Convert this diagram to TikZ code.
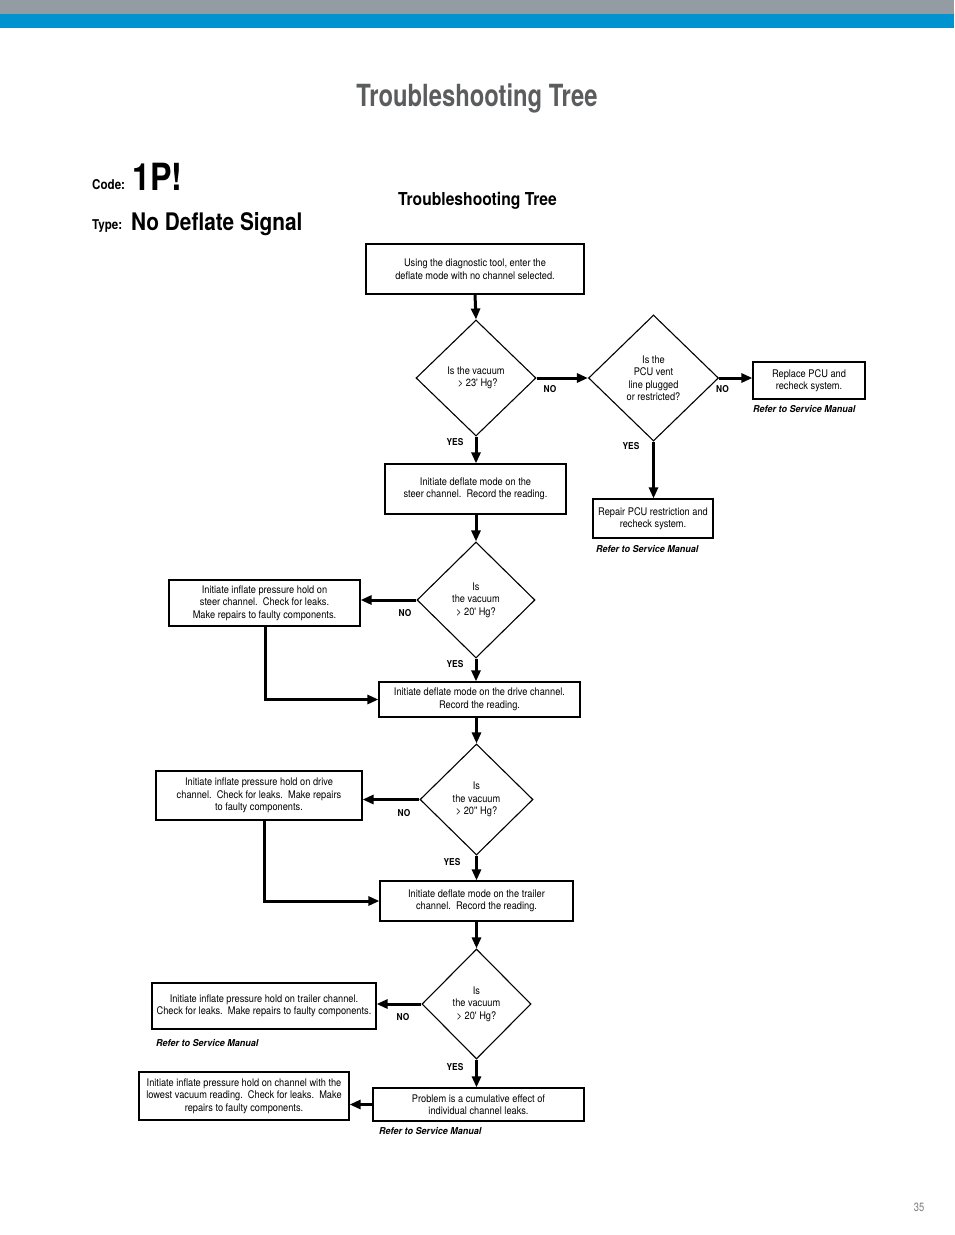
\documentclass[tikz,border=0pt]{standalone}
\usepackage{fontspec}
\usetikzlibrary{arrows.meta,shapes.geometric}
\setmainfont{TeX Gyre Heros}
\newfontfamily\cond[FakeStretch=0.88]{TeX Gyre Heros}
\newfontfamily\condref[FakeStretch=0.95]{TeX Gyre Heros}
\newfontfamily\condtitle[FakeStretch=0.78]{TeX Gyre Heros}
\newfontfamily\condcode[FakeStretch=0.86]{TeX Gyre Heros}
\definecolor{bandgray}{HTML}{939BA3}
\definecolor{bandblue}{HTML}{0093D0}
\definecolor{titlegray}{HTML}{5B5C5E}
\tikzset{
  box/.style={draw, line width=1.2pt, inner sep=0pt, align=center, font=\cond\fontsize{10.5}{12.5}\selectfont},
  dia/.style={draw, diamond, line width=1.1pt, inner sep=0pt, align=center, font=\cond\fontsize{10.5}{12.5}\selectfont},
  flow/.style={line width=3pt, -{Triangle[length=11pt,width=9pt]}},
  lbl/.style={font=\cond\bfseries\fontsize{9.5}{10}\selectfont, inner sep=0pt},
  ref/.style={font=\condref\bfseries\itshape\fontsize{9.5}{10}\selectfont, inner sep=0pt, anchor=west},
}
\begin{document}
\begin{tikzpicture}[x=1pt,y=-1pt]
\useasboundingbox (0,0) rectangle (954,1235);
\fill[white] (0,0) rectangle (954,1235);
\fill[bandgray] (0,0) rectangle (954,14);
\fill[bandblue] (0,14) rectangle (954,27.5);
% page titles
\node[text=titlegray, font=\condtitle\bfseries\fontsize{30.5}{32}\selectfont, anchor=base] (title) at (477,106) {Troubleshooting Tree};
\node[font=\condcode\bfseries\fontsize{13.5}{14}\selectfont, anchor=base west, inner sep=0pt] (codel) at (92,189) {Code:};
\node[font=\condcode\bfseries\fontsize{37.5}{40}\selectfont, anchor=base west, inner sep=0pt] (code) at (132,190) {1P!};
\node[font=\condcode\bfseries\fontsize{13.5}{14}\selectfont, anchor=base west, inner sep=0pt] (typel) at (92,229) {Type:};
\node[font=\condcode\bfseries\fontsize{24.2}{26}\selectfont, anchor=base west, inner sep=0pt] (type) at (131,230) {No Deflate Signal};
\node[font=\cond\bfseries\fontsize{17.8}{21}\selectfont, anchor=base, inner sep=0pt] (ititle) at (477.5,205) {Troubleshooting Tree};
\node[text=gray, font=\condtitle\fontsize{12}{14}\selectfont, inner sep=0pt] (page) at (919,1207) {35};

% boxes
\node[box, minimum width=218pt, minimum height=50pt] (b1) at (475,269) {Using the diagnostic tool, enter the\\deflate mode with no channel selected.};
\node[dia, minimum width=120pt, minimum height=116pt] (d1) at (476,378) {Is the vacuum\\\,\,\textgreater{} 23' Hg?};
\node[dia, minimum width=130pt, minimum height=126pt] (d2) at (653.5,378) {Is the\\PCU vent\\line plugged\\or restricted?};
\node[box, minimum width=112pt, minimum height=37pt] (b2) at (809,380.5) {Replace PCU and\\recheck system.};
\node[box, minimum width=120pt, minimum height=39pt] (b3) at (653,518.5) {Repair PCU restriction and\\recheck system.};
\node[box, minimum width=181pt, minimum height=50pt] (b4) at (475.5,489) {Initiate deflate mode on the\\steer channel.\ \ Record the reading.};
\node[dia, minimum width=118pt, minimum height=116pt] (d3) at (476,600) {Is\\the vacuum\\\textgreater{} 20' Hg?};
\node[box, minimum width=191pt, minimum height=46pt] (l1) at (264.5,603) {Initiate inflate pressure hold on\\steer channel.\ \ Check for leaks.\\Make repairs to faulty components.};
\node[box, minimum width=201pt, minimum height=35pt] (b5) at (479.5,699.5) {Initiate deflate mode on the drive channel.\\Record the reading.};
\node[dia, minimum width=113pt, minimum height=111pt] (d4) at (476.5,799.5) {Is\\the vacuum\\\textgreater{} 20'' Hg?};
\node[box, minimum width=206pt, minimum height=49pt] (l2) at (259,795.5) {Initiate inflate pressure hold on drive\\channel.\ \ Check for leaks.\ \ Make repairs\\to faulty components.};
\node[box, minimum width=193pt, minimum height=40pt] (b6) at (476.5,901) {Initiate deflate mode on the trailer\\channel.\ \ Record the reading.};
\node[dia, minimum width=109pt, minimum height=110pt] (d5) at (476.5,1004) {Is\\the vacuum\\\textgreater{} 20' Hg?};
\node[box, minimum width=224pt, minimum height=46pt] (l3) at (264,1006) {Initiate inflate pressure hold on trailer channel.\\Check for leaks.\ \ Make repairs to faulty components.};
\node[box, minimum width=211pt, minimum height=33pt] (b7) at (478.5,1104.5) {Problem is a cumulative effect of\\individual channel leaks.};
\node[box, minimum width=210pt, minimum height=48pt] (l4) at (244,1096) {Initiate inflate pressure hold on channel with the\\lowest vacuum reading.\ \ Check for leaks.\ \ Make\\repairs to faulty components.};

% connectors
\draw[flow] (b1.south) -- (d1.north);
\draw[flow] (d1.east) -- (d2.west);
\draw[flow] (d2.east) -- (b2.west |- d2.east);
\draw[flow] (d2.south) -- (d2.south |- b3.north);
\draw[flow] (d1.south) -- (d1.south |- b4.north);
\draw[flow] (b4.south -| d3.north) -- (d3.north);
\draw[flow] (d3.west) -- (d3.west -| l1.east);
\draw[flow] (d3.south) -- (d3.south |- b5.north);
\coordinate (c1) at ([xshift=0.5pt]l1.south);
\draw[flow] (c1) |- (b5.west);
\draw[flow] (b5.south -| d4.north) -- (d4.north);
\draw[flow] (d4.west) -- (d4.west -| l2.east);
\draw[flow] (d4.south) -- (d4.south |- b6.north);
\coordinate (c2) at ([xshift=5pt]l2.south);
\draw[flow] (c2) |- (b6.west);
\draw[flow] (b6.south -| d5.north) -- (d5.north);
\draw[flow] (d5.west) -- (d5.west -| l3.east);
\draw[flow] (d5.south) -- (d5.south |- b7.north);
\draw[flow] (b7.west) -- (b7.west -| l4.east);

% labels
\node[lbl] (n1) at (550,389) {NO};
\node[lbl] (n2) at (722.5,389.5) {NO};
\node[lbl] (y1) at (455,442) {YES};
\node[lbl] (y2) at (631,446) {YES};
\node[lbl] (n3) at (405,613) {NO};
\node[lbl] (y3) at (455,664) {YES};
\node[lbl] (n4) at (404,813) {NO};
\node[lbl] (y4) at (452,862) {YES};
\node[lbl] (n5) at (403,1017.5) {NO};
\node[lbl] (y5) at (455,1067) {YES};
\node[ref] (r1) at (753,409.5) {Refer to Service Manual};
\node[ref] (r2) at (596,549) {Refer to Service Manual};
\node[ref] (r3) at (156,1043.5) {Refer to Service Manual};
\node[ref] (r4) at (379,1131.5) {Refer to Service Manual};
\end{tikzpicture}
\end{document}
